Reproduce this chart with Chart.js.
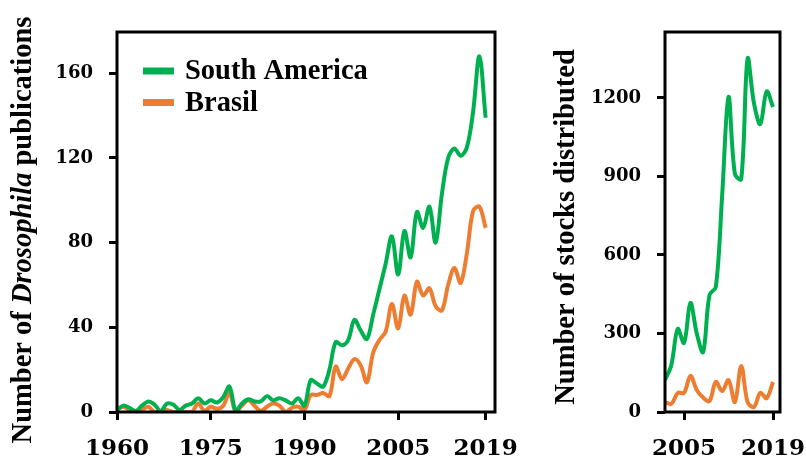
<!DOCTYPE html>
<html>
<head>
<meta charset="utf-8">
<script src="https://cdn.jsdelivr.net/npm/chart.js@4.4.1/dist/chart.umd.min.js"></script>
<style>
  body { margin: 0; background: #fff; width: 806px; height: 461px; position: relative; overflow: hidden; }
  canvas { position: absolute; top: 0; }
  #pubs { left: 0; }
  #stocks { left: 525px; }
</style>
</head>
<body>
<canvas id="pubs" width="525" height="461"></canvas>
<canvas id="stocks" width="281" height="461"></canvas>
<script>
// ---- data ----
const seriesNames = ['South America', 'Brasil'];
const seriesColors = ['#00B050', '#ED7D31'];

const pubYears = [1960, 1961, 1962, 1963, 1964, 1965, 1966, 1967, 1968, 1969,
                  1970, 1971, 1972, 1973, 1974, 1975, 1976, 1977, 1978, 1979,
                  1980, 1981, 1982, 1983, 1984, 1985, 1986, 1987, 1988, 1989,
                  1990, 1991, 1992, 1993, 1994, 1995, 1996, 1997, 1998, 1999,
                  2000, 2001, 2002, 2003, 2004, 2005, 2006, 2007, 2008, 2009,
                  2010, 2011, 2012, 2013, 2014, 2015, 2016, 2017, 2018, 2019];
const pubSouthAmerica = [1, 3, 2, 0.5, 3, 5, 3.5, 0.5, 4, 3.5,
                         1, 3, 4, 6.5, 4, 5.5, 4.5, 7, 12, 0.5,
                         4, 6, 5, 5, 7.5, 5.5, 6.5, 5.5, 4, 6.5,
                         3, 15, 13.5, 12, 20, 33, 31.5, 34, 43.5, 38.5,
                         34.5, 46, 58, 70, 83, 65, 85.5, 73, 94.5, 87,
                         97, 80, 103, 120, 124.5, 121, 125, 142, 168, 139];
const pubBrasil = [1, 2.5, 1, 0.5, 1, 2.5, 0, 0.5, 1, 0,
                   0, 0, 0, 4, 0.5, 2.5, 1.5, 3, 9, 0,
                   3, 5.5, 3, 0.5, 2.5, 4, 3, 0, 2, 2.5,
                   1, 8, 8, 9, 7.5, 21.5, 15.5, 20.5, 25, 22,
                   14, 28, 34, 38, 51, 39.5, 55, 46, 61.5, 55,
                   58.5, 50, 48, 60, 68, 61, 75, 95, 97, 87];
const pubXTicks = [1960, 1975, 1990, 2005, 2019];
const pubYTicks = [0, 40, 80, 120, 160];

const stockYears = [2002, 2003, 2004, 2005, 2006, 2007, 2008, 2009, 2010,
                    2011, 2012, 2013, 2014, 2015, 2016, 2017, 2018, 2019];
const stockSouthAmerica = [122, 180, 317, 264, 417, 300, 229, 447, 478,
                           830, 1204, 910, 890, 1350, 1180, 1100, 1225, 1165];
const stockBrasil = [38, 31, 73, 73, 138, 84, 55, 42, 115,
                     80, 122, 38, 176, 38, 19, 73, 53, 115];
const stockXTicks = [2005, 2019];
const stockYTicks = [0, 300, 600, 900, 1200];

const tickFont = 'DejaVu Serif';
const textFont = 'Liberation Serif';

function points(xs, ys) {
  return xs.map((x, i) => ({ x: x, y: ys[i] }));
}

function lineSets(xs, a, b) {
  return [a, b].map((ys, i) => ({
    label: seriesNames[i],
    data: points(xs, ys),
    borderColor: seriesColors[i],
    backgroundColor: seriesColors[i],
    borderWidth: 4,
    pointRadius: 0,
    tension: 0.35,
    fill: false
  }));
}

function axes(xMin, xMax, xTicks, yMax, yTicks, yWidth) {
  return {
    x: {
      type: 'linear', min: xMin, max: xMax,
      afterBuildTicks: s => { s.ticks = xTicks.map(v => ({ value: v })); },
      // fixed height, and don't let the end labels squeeze the plot
      afterFit: s => { s.height = 49; s.paddingLeft = 0; s.paddingRight = 0; },
      border: { display: false },
      grid: { drawOnChartArea: false, drawTicks: true, tickLength: 8, tickWidth: 3, tickColor: '#000' },
      ticks: { color: '#000', font: { family: tickFont, weight: 'bold', size: 23 }, padding: 15,
               maxRotation: 0, autoSkip: false, callback: v => String(v) }
    },
    y: {
      type: 'linear', min: 0, max: yMax,
      afterBuildTicks: s => { s.ticks = yTicks.map(v => ({ value: v })); },
      afterFit: s => { s.width = yWidth; },
      border: { display: false },
      grid: { drawOnChartArea: false, drawTicks: true, tickLength: 8, tickWidth: 3, tickColor: '#000' },
      ticks: { color: '#000', font: { family: tickFont, weight: 'bold', size: 18 }, padding: 16,
               callback: v => String(v) }
    }
  };
}

// box around plot area
const frame = {
  id: 'frame',
  afterDraw(chart) {
    const a = chart.chartArea, ctx = chart.ctx;
    ctx.save();
    ctx.strokeStyle = '#000';
    ctx.lineWidth = 3;
    ctx.strokeRect(a.left, a.top, a.right - a.left, a.bottom - a.top);
    ctx.restore();
  }
};

// rotated y title, parts may be italic
function yTitle(parts, x, y) {
  return {
    id: 'ytitle',
    afterDraw(chart) {
      const ctx = chart.ctx;
      ctx.save();
      ctx.translate(x, y);
      ctx.rotate(-Math.PI / 2);
      ctx.fillStyle = '#000';
      ctx.textBaseline = 'alphabetic';
      ctx.textAlign = 'left';
      const fonts = parts.map(p => (p[1] ? 'italic ' : '') + 'bold 28.5px "' + textFont + '"');
      let total = 0;
      parts.forEach((p, i) => { ctx.font = fonts[i]; total += ctx.measureText(p[0]).width; });
      let cx = -total / 2;
      parts.forEach((p, i) => {
        ctx.font = fonts[i];
        ctx.fillText(p[0], cx, 0);
        cx += ctx.measureText(p[0]).width;
      });
      ctx.restore();
    }
  };
}

// legend in the top-left of the publications panel
const legendBox = {
  id: 'legendBox',
  afterDraw(chart) {
    const ctx = chart.ctx;
    const rows = [71, 102.5];
    ctx.save();
    ctx.font = 'bold 28.5px "' + textFont + '"';
    ctx.textBaseline = 'middle';
    seriesNames.forEach((name, i) => {
      ctx.fillStyle = seriesColors[i];
      ctx.fillRect(143, rows[i] - 3.5, 31, 7);
      ctx.fillStyle = '#000';
      ctx.fillText(name, 185, rows[i] + 1);
    });
    ctx.restore();
  }
};

const common = {
  responsive: false,
  animation: false,
  plugins: { legend: { display: false }, tooltip: { enabled: false } }
};

new Chart(document.getElementById('pubs'), {
  type: 'line',
  data: { datasets: lineSets(pubYears, pubSouthAmerica, pubBrasil) },
  options: Object.assign({}, common, {
    layout: { padding: { left: 0, top: 32, right: 30, bottom: 0 } },
    scales: axes(1960, 2020.5, pubXTicks, 179.5, pubYTicks, 117)
  }),
  plugins: [frame, legendBox, yTitle([['Number of ', false], ['Drosophila', true], [' publications', false]], 31, 230)]
});

new Chart(document.getElementById('stocks'), {
  type: 'line',
  data: { datasets: lineSets(stockYears, stockSouthAmerica, stockBrasil) },
  options: Object.assign({}, common, {
    layout: { padding: { left: 0, top: 32, right: 26, bottom: 0 } },
    scales: axes(2002, 2020.1, stockXTicks, 1452, stockYTicks, 140)
  }),
  plugins: [frame, yTitle([['Number of stocks distributed', false]], 49, 227)]
});
</script>
</body>
</html>
